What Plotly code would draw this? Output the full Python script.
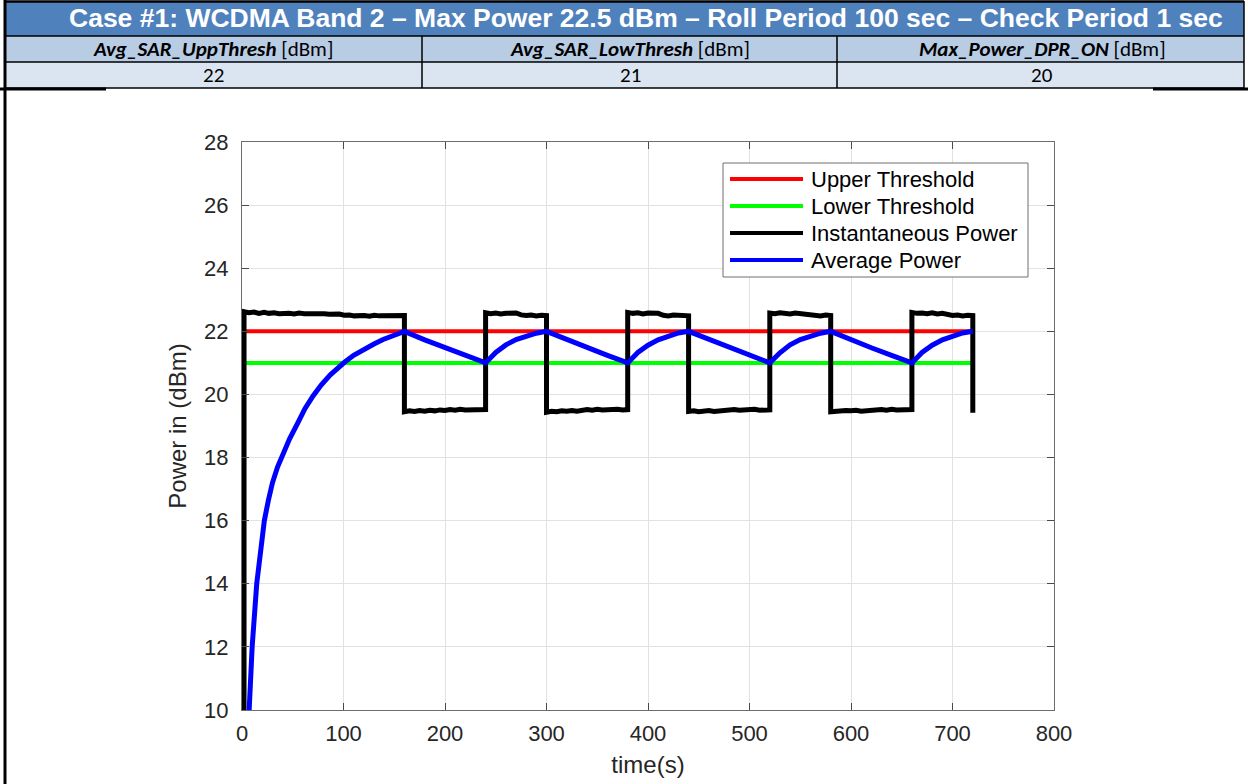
import numpy as np
import plotly.graph_objects as go

# ---------------- data ----------------
x_ticks = [0, 100, 200, 300, 400, 500, 600, 700, 800]
y_ticks = [10, 12, 14, 16, 18, 20, 22, 24, 26, 28]

thr_t = [0, 720]
upper_thr = [22, 22]
lower_thr = [21, 21]

# instantaneous power: (start s, end s, readings)
inst_start = [2, 0]  # initial jump from below the axis
inst_high_1 = [22.62, 22.59, 22.61, 22.57, 22.60, 22.57, 22.59, 22.56, 22.58, 22.57, 22.55,
               22.58, 22.56, 22.57, 22.55, 22.57, 22.56, 22.54, 22.56, 22.55, 22.51, 22.52,
               22.49, 22.51, 22.50, 22.48, 22.51, 22.49, 22.50, 22.48, 22.50, 22.49, 22.50]
inst_low_1 = [19.45, 19.48, 19.46, 19.49, 19.47, 19.50, 19.48, 19.51, 19.49, 19.52, 19.50,
              19.53, 19.51, 19.52, 19.50, 19.53, 19.52]
inst_high_2 = [22.59, 22.56, 22.58, 22.55, 22.57, 22.56, 22.58, 22.52, 22.50, 22.52, 22.49, 22.51, 22.50]
inst_low_2 = [19.44, 19.47, 19.45, 19.48, 19.47, 19.49, 19.47, 19.50, 19.52, 19.50, 19.53,
              19.51, 19.52, 19.50, 19.53, 19.51, 19.52]
inst_high_3 = [22.60, 22.57, 22.59, 22.55, 22.58, 22.56, 22.57, 22.51, 22.49, 22.52, 22.50, 22.51, 22.49]
inst_low_3 = [19.46, 19.48, 19.45, 19.47, 19.49, 19.46, 19.48, 19.50, 19.49, 19.52, 19.50,
              19.52, 19.51, 19.53, 19.50, 19.52, 19.51]
inst_high_4 = [22.58, 22.56, 22.59, 22.57, 22.55, 22.58, 22.56, 22.52, 22.50, 22.51, 22.49, 22.52, 22.50]
inst_low_4 = [19.45, 19.47, 19.46, 19.49, 19.48, 19.50, 19.47, 19.49, 19.51, 19.50, 19.52,
              19.50, 19.53, 19.51, 19.52, 19.50, 19.52]
inst_high_5 = [22.60, 22.57, 22.58, 22.56, 22.59, 22.55, 22.57, 22.53, 22.50, 22.52, 22.49, 22.51, 22.50]
inst_end = [720, 19.42]

inst_segments = [
    (2, 160, inst_high_1), (160, 240, inst_low_1), (240, 300, inst_high_2),
    (300, 380, inst_low_2), (380, 440, inst_high_3), (440, 520, inst_low_3),
    (520, 580, inst_high_4), (580, 660, inst_low_4), (660, 720, inst_high_5),
]

avg_t = [5, 7, 10, 14.5, 18, 22, 26, 30, 35, 40, 47, 55, 62, 70, 78, 87, 94, 101, 110, 120,
         130, 139, 150, 160,
         180, 200, 220, 240, 250, 260, 270, 280, 290, 300,
         320, 340, 360, 380, 390, 400, 410, 420, 430, 440,
         460, 480, 500, 520, 530, 540, 550, 560, 570, 580,
         600, 620, 640, 660, 670, 680, 690, 700, 710, 720]
avg_v = [8.6, 10.0, 12.0, 14.0, 15.1, 16.0, 16.65, 17.2, 17.7, 18.1, 18.6, 19.1, 19.55, 19.95,
         20.3, 20.62, 20.84, 21.02, 21.24, 21.43, 21.6, 21.74, 21.88, 22.0,
         21.73, 21.48, 21.24, 21.0, 21.33, 21.57, 21.74, 21.86, 21.94, 22.0,
         21.73, 21.49, 21.24, 21.0, 21.33, 21.56, 21.73, 21.86, 21.95, 22.0,
         21.74, 21.48, 21.23, 21.0, 21.32, 21.57, 21.74, 21.86, 21.94, 22.0,
         21.73, 21.48, 21.24, 21.0, 21.33, 21.56, 21.73, 21.86, 21.95, 22.0]

series_names = ["Upper Threshold", "Lower Threshold", "Instantaneous Power", "Average Power"]
series_colors = ["#FF0000", "#00FF00", "#000000", "#0000FF"]

title_text = "Case #1: WCDMA Band 2 \u2013 Max Power 22.5 dBm \u2013 Roll Period 100 sec \u2013 Check Period 1 sec"
param_names = ["Avg_SAR_UppThresh", "Avg_SAR_LowThresh", "Max_Power_DPR_ON"]
param_unit = " [dBm]"
param_values = ["22", "21", "20"]

# ---------------- build instantaneous series ----------------
inst_t = [inst_start[0]]
inst_v = [inst_start[1]]
for s, e, vals in inst_segments:
    inst_t += list(np.linspace(s, e, len(vals)))
    inst_v += vals
inst_t.append(inst_end[0])
inst_v.append(inst_end[1])

# ---------------- layout geometry ----------------
W, H = 1248, 784
L, R, T, B = 242, 1054, 142, 710


def px(x):
    return (x - L) / (R - L)


def py(y):
    return (B - y) / (B - T)


FONT = "Liberation Sans, Arial, Helvetica, sans-serif"
CAL = "Carlito, Calibri, Lato, sans-serif"

fig = go.Figure()
fig.add_trace(go.Scatter(x=thr_t, y=upper_thr, mode="lines", name=series_names[0],
                         line=dict(color=series_colors[0], width=4)))
fig.add_trace(go.Scatter(x=thr_t, y=lower_thr, mode="lines", name=series_names[1],
                         line=dict(color=series_colors[1], width=4)))
fig.add_trace(go.Scatter(x=inst_t, y=inst_v, mode="lines", name=series_names[2],
                         line=dict(color=series_colors[2], width=5)))
fig.add_trace(go.Scatter(x=avg_t, y=avg_v, mode="lines", name=series_names[3],
                         line=dict(color=series_colors[3], width=5)))

shapes = []
annotations = []

# ---- table header ----
col_x = [4, 422, 837, 1244]
rows_y = [1, 36, 62, 88]
row_fill = ["#4F81BD", "#B8CCE4", "#DBE5F1"]
shapes.append(dict(type="rect", xref="paper", yref="paper", x0=px(col_x[0]), x1=px(col_x[-1]),
                   y0=py(rows_y[0]), y1=py(rows_y[1]), fillcolor=row_fill[0], line=dict(width=0)))
for r in (1, 2):
    shapes.append(dict(type="rect", xref="paper", yref="paper", x0=px(col_x[0]), x1=px(col_x[-1]),
                       y0=py(rows_y[r]), y1=py(rows_y[r + 1]), fillcolor=row_fill[r], line=dict(width=0)))
for yv, w in ((rows_y[0] + 0.5, 2.5), (rows_y[1], 1.5), (rows_y[2], 1.5), (rows_y[3], 1.5)):
    shapes.append(dict(type="line", xref="paper", yref="paper", x0=px(col_x[0]), x1=px(col_x[-1]),
                       y0=py(yv), y1=py(yv), line=dict(color="#000000", width=w)))
for xv in col_x[1:3]:
    shapes.append(dict(type="line", xref="paper", yref="paper", x0=px(xv), x1=px(xv),
                       y0=py(rows_y[1]), y1=py(rows_y[3]), line=dict(color="#000000", width=1.5)))
shapes.append(dict(type="line", xref="paper", yref="paper", x0=px(col_x[-1]), x1=px(col_x[-1]),
                   y0=py(rows_y[0]), y1=py(rows_y[3]), line=dict(color="#000000", width=1.5)))
shapes.append(dict(type="line", xref="paper", yref="paper", x0=px(5), x1=px(5),
                   y0=py(0), y1=py(H), line=dict(color="#000000", width=3)))
shapes.append(dict(type="line", xref="paper", yref="paper", x0=px(0), x1=px(106),
                   y0=py(89), y1=py(89), line=dict(color="#000000", width=3)))
shapes.append(dict(type="line", xref="paper", yref="paper", x0=px(1153), x1=px(W),
                   y0=py(89), y1=py(89), line=dict(color="#000000", width=3)))

annotations.append(dict(xref="paper", yref="paper", x=px(646), y=py(18.5), text="<b>" + title_text + "</b>",
                        showarrow=False, xanchor="center", yanchor="middle",
                        font=dict(family=FONT, size=26.5, color="#FFFFFF")))
col_centers = [213, 630, 1042]
for i in range(3):
    annotations.append(dict(xref="paper", yref="paper", x=px(col_centers[i]), y=py(49),
                            text="<b><i>" + param_names[i] + "</i></b>" + param_unit,
                            showarrow=False, xanchor="center", yanchor="middle",
                            font=dict(family=CAL, size=21, color="#000000")))
    annotations.append(dict(xref="paper", yref="paper", x=px(col_centers[i]), y=py(75.5),
                            text=param_values[i], showarrow=False, xanchor="center", yanchor="middle",
                            font=dict(family=CAL, size=21, color="#000000")))

# ---- legend (drawn box) ----
lg_x0, lg_x1, lg_y0, lg_y1 = 723, 1028, 163, 277
shapes.append(dict(type="rect", xref="paper", yref="paper", x0=px(lg_x0), x1=px(lg_x1),
                   y0=py(lg_y1), y1=py(lg_y0), fillcolor="#FFFFFF", layer="above",
                   line=dict(color="#6E6E6E", width=1)))
lg_rows = [179, 206, 233, 260]
for i in range(4):
    shapes.append(dict(type="line", xref="paper", yref="paper", x0=px(730), x1=px(803),
                       y0=py(lg_rows[i]), y1=py(lg_rows[i]), layer="above",
                       line=dict(color=series_colors[i], width=4)))
    annotations.append(dict(xref="paper", yref="paper", x=px(809), y=py(lg_rows[i] + 0.5),
                            text=series_names[i], showarrow=False, xanchor="left", yanchor="middle",
                            font=dict(family=FONT, size=22, color="#000000")))

axis_common = dict(showline=True, linecolor="#6E6E6E", linewidth=1.2, mirror="ticks",
                   ticks="inside", ticklen=7, tickwidth=1, tickcolor="#4A4A4A",
                   showgrid=True, gridcolor="#E2E2E2", gridwidth=1, zeroline=False,
                   tickfont=dict(family=FONT, size=22, color="#262626"))

fig.update_layout(
    width=W, height=H,
    margin=dict(l=L, r=W - R, t=T, b=H - B, pad=0),
    paper_bgcolor="#FFFFFF", plot_bgcolor="#FFFFFF",
    showlegend=False,
    shapes=shapes, annotations=annotations,
    xaxis=dict(range=[0, 800], tickvals=x_ticks, ticktext=[str(v) for v in x_ticks],
               ticklabelstandoff=3,
               title=dict(text="time(s)", font=dict(family=FONT, size=24, color="#262626"), standoff=11),
               **axis_common),
    yaxis=dict(range=[10, 28], tickvals=y_ticks, ticktext=[str(v) for v in y_ticks],
               ticklabelstandoff=8,
               title=dict(text="Power in (dBm)", font=dict(family=FONT, size=24, color="#262626"), standoff=10),
               **axis_common),
)

fig.write_html("out.html", config={"displayModeBar": False},
               post_script="document.body.style.margin='0px';")
